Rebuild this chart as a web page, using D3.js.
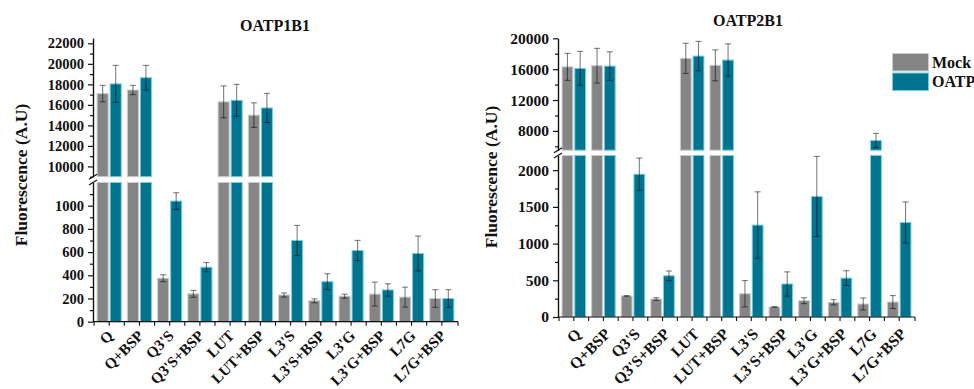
<!DOCTYPE html>
<html>
<head>
<meta charset="utf-8">
<script src="https://cdn.jsdelivr.net/npm/d3@7"></script>
<style>
  html, body { margin: 0; padding: 0; background: #fff; }
  svg { display: block; font-family: "Liberation Serif", "Times New Roman", serif; font-weight: bold; }
</style>
</head>
<body>
<svg id="chart" width="974" height="389"></svg>
<script>
// Compounds tested in each transporter assay
const categories = ["Q", "Q+BSP", "Q3'S", "Q3'S+BSP", "LUT", "LUT+BSP",
                    "L3'S", "L3'S+BSP", "L3'G", "L3'G+BSP", "L7G", "L7G+BSP"];
const seriesNames = ["Mock", "OATP"];

// OATP1B1 cells: mean fluorescence and SD
const oatp1b1Mock    = [17100, 17450, 375, 240, 16300, 15000, 230, 180, 220, 238, 212, 200];
const oatp1b1MockErr = [800, 450, 30, 30, 1550, 1200, 18, 17, 17, 103, 86, 76];
const oatp1b1Oatp    = [18050, 18650, 1040, 470, 16450, 15700, 700, 345, 614, 274, 588, 200];
const oatp1b1OatpErr = [1800, 1200, 72, 40, 1550, 1420, 130, 68, 87, 53, 150, 76];

// OATP2B1 cells: mean fluorescence and SD
const oatp2b1Mock    = [16300, 16450, 286, 245, 17400, 16500, 317, 136, 222, 200, 177, 204];
const oatp2b1MockErr = [1750, 2250, 5, 18, 1950, 2000, 180, 5, 40, 36, 82, 88];
const oatp2b1Oatp    = [16100, 16400, 1945, 562, 17700, 17180, 1252, 450, 1642, 530, 6750, 1288];
const oatp2b1OatpErr = [2200, 1850, 220, 65, 1900, 2100, 453, 165, 545, 100, 930, 280];

// Broken y-axis ranges and tick labels
const p1LowDomain = [0, 1200],   p1HighDomain = [9000, 22500];
const p1LowTicks  = [0, 200, 400, 600, 800, 1000];
const p1LowMinor  = [100, 300, 500, 700, 900, 1100];
const p1HighTicks = [10000, 12000, 14000, 16000, 18000, 20000, 22000];
const p1HighMinor = [9000, 11000, 13000, 15000, 17000, 19000, 21000];

const p2LowDomain = [0, 2200],   p2HighDomain = [5500, 20000];
const p2LowTicks  = [0, 500, 1000, 1500, 2000];
const p2LowMinor  = [250, 750, 1250, 1750];
const p2HighTicks = [8000, 12000, 16000, 20000];
const p2HighMinor = [6000, 10000, 14000, 18000];

const colors = { Mock: "#858585", OATP: "#00748f" };
const edges  = { Mock: "#cdcdcd", OATP: "#79cfe0" };

const svg = d3.select("#chart");

function drawPanel(o) {
  const g = svg.append("g");

  const x0 = d3.scaleBand().domain(categories).range([o.left, o.right])
    .paddingInner(0.17).paddingOuter(0.12);
  const x1 = d3.scaleBand().domain(seriesNames).range([0, x0.bandwidth()]).paddingInner(0.07);
  const yLo = d3.scaleLinear().domain(o.lowDomain).range([o.bottom, o.lowTop]);
  const yHi = d3.scaleLinear().domain(o.highDomain).range([o.highBottom, o.top]);
  const cut = o.lowDomain[1];

  const bars = [];
  categories.forEach((c, i) => {
    bars.push({ c, s: "Mock", v: o.mock[i], e: o.mockErr[i] });
    bars.push({ c, s: "OATP", v: o.oatp[i], e: o.oatpErr[i] });
  });
  const bx = d => x0(d.c) + x1(d.s) + 0.5;
  const bw = x1.bandwidth() - 1;

  // lower segment of every bar
  g.selectAll("rect.lo").data(bars).join("rect").attr("class", "lo")
    .attr("x", bx).attr("width", bw)
    .attr("y", d => d.v > cut ? o.lowTop : yLo(d.v))
    .attr("height", d => o.bottom - (d.v > cut ? o.lowTop : yLo(d.v)))
    .attr("fill", d => colors[d.s]).attr("stroke", d => edges[d.s]).attr("stroke-width", 1);

  // upper segment for bars that pass the break
  const tall = bars.filter(d => d.v > cut);
  g.selectAll("rect.hi").data(tall).join("rect").attr("class", "hi")
    .attr("x", bx).attr("width", bw)
    .attr("y", d => yHi(d.v))
    .attr("height", d => o.highBottom - yHi(d.v))
    .attr("fill", d => colors[d.s]).attr("stroke", d => edges[d.s]).attr("stroke-width", 1);

  // error bars
  const ys = d => d.v > cut ? yHi : yLo;
  const cx = d => x0(d.c) + x1(d.s) + x1.bandwidth() / 2;
  const eb = g.selectAll("g.err").data(bars).join("g").attr("class", "err")
    .attr("stroke", "#000").attr("stroke-opacity", 0.5).attr("stroke-width", 1.1);
  eb.append("line").attr("x1", cx).attr("x2", cx)
    .attr("y1", d => ys(d)(d.v + d.e)).attr("y2", d => ys(d)(Math.max(0, d.v - d.e)));
  eb.append("line").attr("x1", d => cx(d) - 3).attr("x2", d => cx(d) + 3)
    .attr("y1", d => ys(d)(d.v + d.e)).attr("y2", d => ys(d)(d.v + d.e));
  eb.append("line").attr("x1", d => cx(d) - 3).attr("x2", d => cx(d) + 3)
    .attr("y1", d => ys(d)(Math.max(0, d.v - d.e))).attr("y2", d => ys(d)(Math.max(0, d.v - d.e)));

  // y axes (two segments)
  const styleAxis = sel => {
    sel.selectAll("path,line").attr("stroke", "#111").attr("stroke-width", 1.2);
    sel.selectAll("text").attr("font-size", o.tickFont).attr("font-weight", "bold")
      .attr("fill", "#111").attr("font-family", "Liberation Serif, serif");
  };
  [[yLo, o.lowTicks, o.lowMinor], [yHi, o.highTicks, o.highMinor]].forEach(([sc, major, minor]) => {
    g.append("g").attr("transform", `translate(${o.left},0)`)
      .call(d3.axisLeft(sc).tickValues(minor).tickSize(3).tickSizeOuter(0).tickFormat(""))
      .call(styleAxis);
    g.append("g").attr("transform", `translate(${o.left},0)`)
      .call(d3.axisLeft(sc).tickValues(major).tickSize(5).tickSizeOuter(0).tickPadding(4).tickFormat(d3.format("d")))
      .call(styleAxis);
  });

  // break marks
  [o.lowTop, o.highBottom].forEach(yb => {
    g.append("line").attr("x1", o.left - 4).attr("y1", yb + 2.5)
      .attr("x2", o.left + 4).attr("y2", yb - 2.5)
      .attr("stroke", "#111").attr("stroke-width", 1.2);
  });

  // x axis with ticks at centres and band edges
  const edgesX = categories.map(c => x0(c) - x0.step() * x0.paddingInner() / 2).concat([o.right]);
  const centres = categories.map(c => x0(c) + x0.bandwidth() / 2);
  g.append("line").attr("x1", o.left).attr("x2", o.right).attr("y1", o.bottom).attr("y2", o.bottom)
    .attr("stroke", "#111").attr("stroke-width", 1.2);
  g.selectAll("line.xt").data(edgesX.concat(centres)).join("line").attr("class", "xt")
    .attr("x1", d => d).attr("x2", d => d).attr("y1", o.bottom).attr("y2", o.bottom + 4)
    .attr("stroke", "#111").attr("stroke-width", 1.1);

  g.selectAll("text.xl").data(categories).join("text").attr("class", "xl")
    .attr("transform", c => `translate(${x0(c) + x0.bandwidth() / 2 + o.labelDx},${o.bottom + o.labelDy}) rotate(-45)`)
    .attr("text-anchor", "end").attr("font-size", o.labelFont).attr("fill", "#111")
    .text(c => c);

  // title and y label
  g.append("text").attr("x", o.titleX).attr("y", o.titleY).attr("text-anchor", "middle")
    .attr("font-size", 16).attr("fill", "#111").text(o.title);
  g.append("text").attr("transform", `translate(${o.ylabX},${o.ylabY}) rotate(-90)`)
    .attr("text-anchor", "middle").attr("font-size", 17.5).attr("fill", "#111")
    .text("Fluorescence (A.U)");
}

drawPanel({
  title: "OATP1B1", titleX: 275, titleY: 31,
  left: 93, right: 458, bottom: 321.7, lowTop: 182.5, highBottom: 176.7, top: 38.2,
  lowDomain: p1LowDomain, highDomain: p1HighDomain,
  lowTicks: p1LowTicks, lowMinor: p1LowMinor, highTicks: p1HighTicks, highMinor: p1HighMinor,
  mock: oatp1b1Mock, mockErr: oatp1b1MockErr, oatp: oatp1b1Oatp, oatpErr: oatp1b1OatpErr,
  tickFont: 14.5, labelFont: 15.2, labelDx: 5, labelDy: 15, ylabX: 27, ylabY: 175
});

drawPanel({
  title: "OATP2B1", titleX: 748, titleY: 26,
  left: 558, right: 915, bottom: 317, lowTop: 155.5, highBottom: 150.2, top: 38.3,
  lowDomain: p2LowDomain, highDomain: p2HighDomain,
  lowTicks: p2LowTicks, lowMinor: p2LowMinor, highTicks: p2HighTicks, highMinor: p2HighMinor,
  mock: oatp2b1Mock, mockErr: oatp2b1MockErr, oatp: oatp2b1Oatp, oatpErr: oatp2b1OatpErr,
  tickFont: 15.5, labelFont: 15.8, labelDx: 8, labelDy: 18, ylabX: 497, ylabY: 177
});

// legend
const legend = svg.append("g").attr("transform", "translate(892,53)");
legend.selectAll("rect").data(seriesNames).join("rect")
  .attr("x", 0.5).attr("y", (d, i) => i * 19.5 + 0.5).attr("width", 36).attr("height", 17.5)
  .attr("fill", d => colors[d]).attr("stroke", d => edges[d]).attr("stroke-width", 1);
legend.selectAll("text").data(seriesNames).join("text")
  .attr("x", 40).attr("y", (d, i) => i * 19.5 + 14.5)
  .attr("font-size", 16).attr("fill", "#111").text(d => d);
</script>
</body>
</html>
